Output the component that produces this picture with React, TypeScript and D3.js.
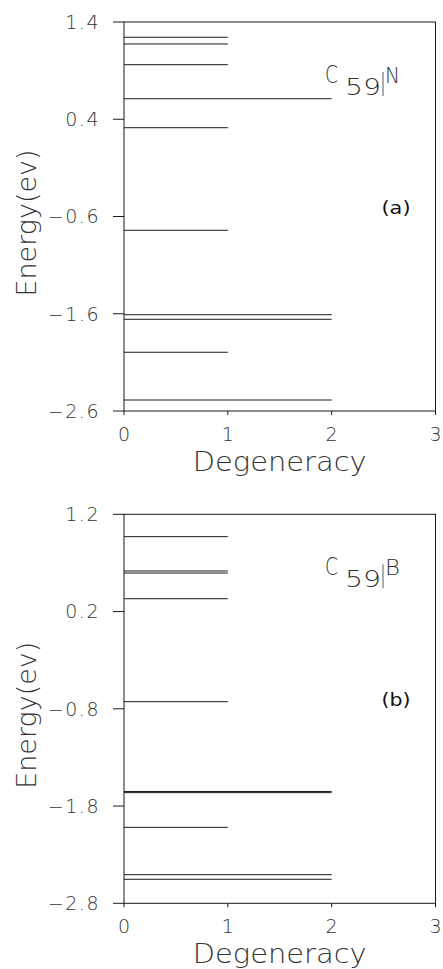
import React from 'react';
import * as d3 from 'd3';

// energy levels (eV) and their degeneracy
const levelsN = [1.243, 1.174, 0.961, 0.611, 0.313, -0.742, -1.61, -1.657, -1.996, -2.487];
const degN = [1, 1, 1, 2, 1, 1, 2, 2, 1, 2];
const levelsB = [0.97, 0.617, 0.596, 0.332, -0.727, -1.65, -1.662, -2.019, -2.506, -2.553];
const degB = [1, 1, 1, 1, 1, 2, 2, 1, 2, 2];

const ticksN = [-2.6, -1.6, -0.6, 0.4, 1.4];
const ticksB = [-2.8, -1.8, -0.8, 0.2, 1.2];
const xTicks = [0, 1, 2, 3];

const panels = [
    { levels: levelsN, deg: degN, ticks: ticksN, domain: [-2.6, 1.4], top: 22, atom: 'N', tag: '(a)' },
    { levels: levelsB, deg: degB, ticks: ticksB, domain: [-2.8, 1.2], top: 514.3, atom: 'B', tag: '(b)' },
];

const W = 443;
const H = 969;
const left = 124;
const right = 435.5;
const plotH = 389;
const ink = '#1a1a1a';
const font = '"DejaVu Sans", sans-serif';

const fmt = (v: number) => (v < 0 ? '\u2212' + d3.format('.1f')(-v) : d3.format('.1f')(v));

const Panel = ({ p }: { p: typeof panels[0] }) => {
    const x = d3.scaleLinear().domain([0, 3]).range([left, right]);
    const y = d3.scaleLinear().domain(p.domain).range([p.top + plotH, p.top]);
    const y0 = y(p.domain[0]);
    const y1 = y(p.domain[1]);

    return (
        <g>
            {/* frame */}
            <rect x={left} y={y1} width={right - left} height={y0 - y1} fill="none" stroke={ink} strokeWidth={1} />

            {/* y ticks */}
            {p.ticks.map(t => (
                <g key={t}>
                    <line x1={left - 11} x2={left} y1={y(t)} y2={y(t)} stroke={ink} strokeWidth={1} />
                    <text x={100} y={y(t)} dy="0.36em" textAnchor="end" fontSize={19} fontWeight={200}
                        fontFamily={font} letterSpacing={1.5} fill="#333">{fmt(t)}</text>
                </g>
            ))}

            {/* x ticks */}
            {xTicks.map(t => (
                <g key={t}>
                    <line x1={x(t)} x2={x(t)} y1={y0} y2={y0 + 4} stroke={ink} strokeWidth={1} />
                    <text x={x(t)} y={y0 + 30} textAnchor="middle" fontSize={19} fontWeight={200}
                        fontFamily={font} fill="#333">{t}</text>
                </g>
            ))}

            {/* levels */}
            {p.levels.map((e, i) => (
                <line key={i} x1={x(0)} x2={x(p.deg[i])} y1={y(e)} y2={y(e)} stroke={ink} strokeWidth={1} />
            ))}

            {/* axis titles */}
            <text x={(left + right) / 2} y={y0 + 60} textAnchor="middle" fontSize={27} fontWeight={200}
                fontFamily={font} fill="#333" textLength={174} lengthAdjust="spacingAndGlyphs">Degeneracy</text>
            <text transform={`translate(36,${p.top + 201}) rotate(-90)`} textAnchor="middle" fontSize={27}
                fontWeight={200} fontFamily={font} fill="#333" textLength={147}
                lengthAdjust="spacingAndGlyphs">Energy(ev)</text>

            {/* molecule label */}
            <text x={325} y={p.top + 61} fontSize={25} fontWeight={200} fontFamily={font} fill="#333"
                textLength={13} lengthAdjust="spacingAndGlyphs">C</text>
            <text x={345} y={p.top + 73} fontSize={23} fontWeight={200} fontFamily={font} fill="#333"
                textLength={36} lengthAdjust="spacingAndGlyphs">59</text>
            <line x1={383} x2={383} y1={p.top + 50} y2={p.top + 74} stroke="#333" strokeWidth={0.8} />
            <text x={385} y={p.top + 61} fontSize={21} fontWeight={200} fontFamily={font} fill="#333"
                textLength={15} lengthAdjust="spacingAndGlyphs">{p.atom}</text>

            {/* panel tag */}
            <text x={396} y={p.top + 192} textAnchor="middle" fontSize={18} fontWeight={500}
                fontFamily={font} fill="#111" textLength={29} lengthAdjust="spacingAndGlyphs">{p.tag}</text>
        </g>
    );
};

const App = () => {
    return (
        <svg width={W} height={H} style={{ position: 'absolute', left: 0, top: 0, background: '#fff' }}>
            {panels.map(p => <Panel key={p.atom} p={p} />)}
        </svg>
    );
};

export default App;
